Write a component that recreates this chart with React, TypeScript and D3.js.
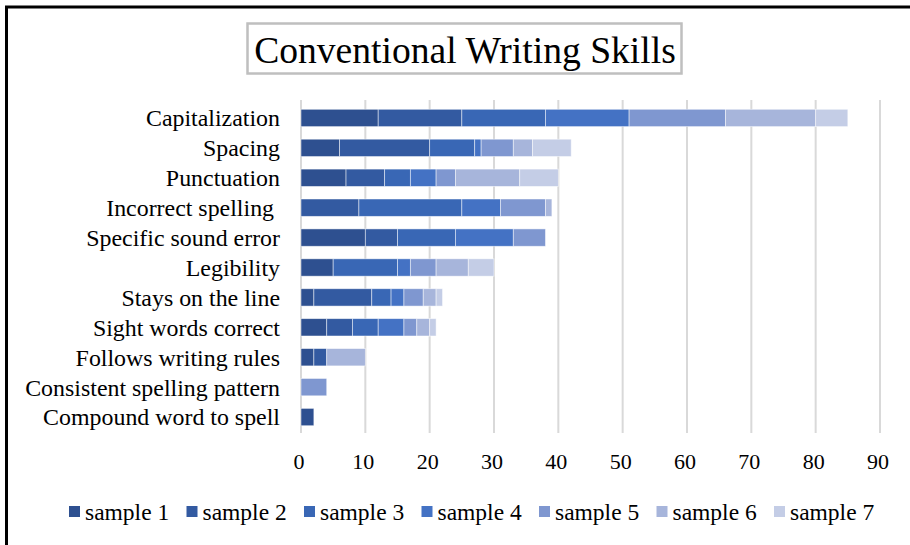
import React from "react";
import * as d3 from "d3";

const categories = [
  "Capitalization",
  "Spacing",
  "Punctuation",
  "Incorrect spelling ",
  "Specific sound error",
  "Legibility",
  "Stays on the line",
  "Sight words correct",
  "Follows writing rules",
  "Consistent spelling pattern",
  "Compound word to spell",
];

const seriesNames = ["sample 1", "sample 2", "sample 3", "sample 4", "sample 5", "sample 6", "sample 7"];

// one array per sample, aligned with categories
const sample1 = [12, 6, 7, 0, 10, 5, 2, 4, 2, 0, 2];
const sample2 = [13, 14, 6, 9, 5, 0, 9, 4, 2, 0, 0];
const sample3 = [13, 7, 4, 16, 9, 10, 3, 4, 0, 0, 0];
const sample4 = [13, 1, 4, 6, 9, 2, 2, 4, 0, 0, 0];
const sample5 = [15, 5, 3, 7, 5, 4, 3, 2, 0, 4, 0];
const sample6 = [14, 3, 10, 1, 0, 5, 2, 2, 6, 0, 0];
const sample7 = [5, 6, 6, 0, 0, 4, 1, 1, 0, 0, 0];

const xTicks = [0, 10, 20, 30, 40, 50, 60, 70, 80, 90];

const colors = ["#2E5090", "#335AA1", "#3967B5", "#4472C4", "#7F97D0", "#A7B5DB", "#C4CDE6"];

const W = 910;
const H = 545;
const FONT = "'Liberation Serif', 'Times New Roman', serif";

export default function App() {
  const allSeries = [sample1, sample2, sample3, sample4, sample5, sample6, sample7];
  const rows = categories.map((c, i) => {
    const r: Record<string, any> = { cat: c };
    seriesNames.forEach((s, j) => (r[s] = allSeries[j][i]));
    return r;
  });
  const stacked = d3.stack<any>().keys(seriesNames)(rows);

  const x = d3.scaleLinear().domain([0, 90]).range([301, 880]);
  const y = d3.scaleBand<string>().domain(categories).range([103, 432]).paddingInner(0.42).paddingOuter(0.21);

  const legendX0 = 69;
  const legendStep = 117.5;

  return (
    <svg width={W} height={H} style={{ position: "absolute", left: 0, top: 0, background: "#fff" }}>
      <rect x={0} y={0} width={W} height={H} fill="#fff" />
      {/* outer frame */}
      <rect x={6.5} y={7} width={W + 20} height={H + 20} fill="none" stroke="#000" strokeWidth={3} />

      {/* title box */}
      <rect x={247.5} y={23.5} width={434} height={50} fill="#fff" stroke="#BFBFBF" strokeWidth={2.5} />
      <text x={465} y={63} textAnchor="middle" fontFamily={FONT} fontSize={37.6} fill="#000">
        Conventional Writing Skills
      </text>

      {/* vertical gridlines */}
      {xTicks.map((t) => (
        <line key={t} x1={x(t)} x2={x(t)} y1={100} y2={433} stroke="#D9D9D9" strokeWidth={2} />
      ))}

      {/* stacked bars */}
      {stacked.map((layer, si) => (
        <g key={layer.key} fill={colors[si]}>
          {layer.map((d, i) =>
            d[1] - d[0] > 0 ? (
              <rect
                key={i}
                x={x(d[0])}
                y={y(categories[i])}
                width={x(d[1]) - x(d[0])}
                height={y.bandwidth()}
                stroke="#fff"
                strokeOpacity={0.6}
                strokeWidth={0.8}
              />
            ) : null
          )}
        </g>
      ))}

      {/* category labels */}
      {categories.map((c) => (
        <text
          key={c}
          x={280}
          y={(y(c) as number) + y.bandwidth() / 2}
          dy="0.35em"
          textAnchor="end"
          fontFamily={FONT}
          fontSize={23.9}
          fill="#000"
          style={{ whiteSpace: "pre" }}
        >
          {c}
        </text>
      ))}

      {/* x tick labels */}
      {xTicks.map((t) => (
        <text key={t} x={x(t) - 2} y={469} textAnchor="middle" fontFamily={FONT} fontSize={22} fill="#000">
          {t}
        </text>
      ))}

      {/* legend */}
      {seriesNames.map((s, i) => (
        <g key={s} transform={`translate(${legendX0 + i * legendStep},0)`}>
          <rect x={0} y={506} width={11} height={11} fill={colors[i]} />
          <text x={16} y={519.5} fontFamily={FONT} fontSize={23.5} fill="#000">
            {s}
          </text>
        </g>
      ))}
    </svg>
  );
}
